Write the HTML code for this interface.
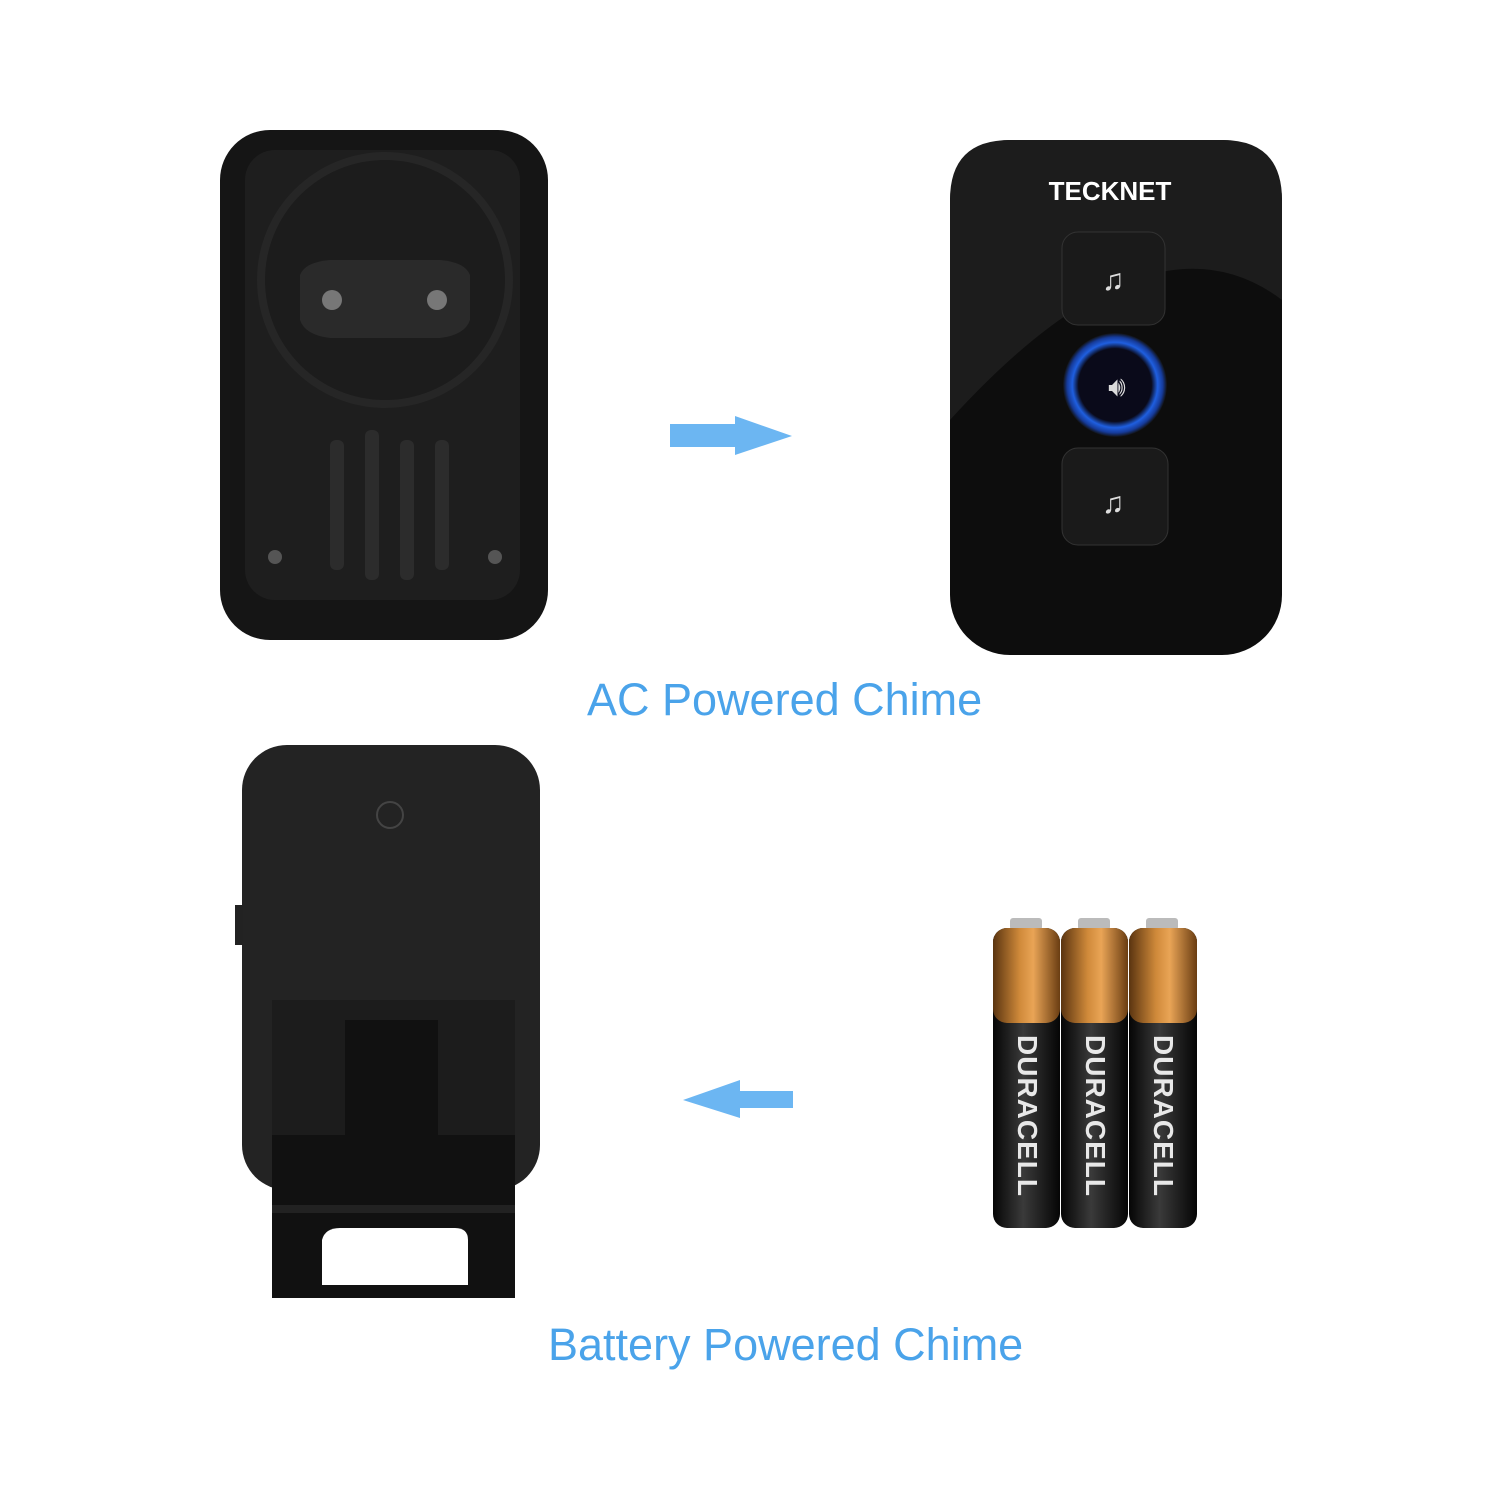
<!DOCTYPE html>
<html><head><meta charset="utf-8"><style>
body{margin:0;width:1500px;height:1500px;background:#fff;position:relative;overflow:hidden;font-family:"Liberation Sans",sans-serif}
.a{position:absolute}
.lbl{position:absolute;color:#4aa3ea;font-size:45px;white-space:nowrap}
</style></head><body>
<svg class="a" style="left:0;top:0" width="1500" height="1500" viewBox="0 0 1500 1500">
<defs>
<linearGradient id="cu" x1="0" x2="1"><stop offset="0" stop-color="#5a3410"/><stop offset=".4" stop-color="#d08a3a"/><stop offset=".6" stop-color="#e9a456"/><stop offset="1" stop-color="#6a3d12"/></linearGradient>
<linearGradient id="bk" x1="0" x2="1"><stop offset="0" stop-color="#050505"/><stop offset=".45" stop-color="#3a3a3a"/><stop offset="1" stop-color="#050505"/></linearGradient>
<radialGradient id="ring"><stop offset=".7" stop-color="#0a0a1a"/><stop offset=".82" stop-color="#1f5fe0"/><stop offset=".92" stop-color="#163b9a"/><stop offset="1" stop-color="#111"/></radialGradient>
</defs>
<rect x="220" y="130" width="328" height="510" rx="50" fill="#151515"/>
<rect x="245" y="150" width="275" height="450" rx="30" fill="#1e1e1e"/>
<circle cx="385" cy="280" r="128" fill="#262626"/>
<circle cx="385" cy="280" r="120" fill="#1c1c1c"/>
<path d="M300 275 Q305 262 330 260 L440 260 Q465 262 470 275 L470 320 Q465 335 440 338 L330 338 Q305 335 300 320 Z" fill="#2a2a2a"/>
<circle cx="332" cy="300" r="10" fill="#777"/><circle cx="437" cy="300" r="10" fill="#777"/>
<g fill="#2c2c2c"><rect x="330" y="440" width="14" height="130" rx="6"/><rect x="365" y="430" width="14" height="150" rx="6"/><rect x="400" y="440" width="14" height="140" rx="6"/><rect x="435" y="440" width="14" height="130" rx="6"/></g>
<circle cx="275" cy="557" r="7" fill="#555"/><circle cx="495" cy="557" r="7" fill="#555"/>
<polygon points="670,424 735,424 735,416 792,436 735,455 735,447 670,447" fill="#6cb6f2"/>
<rect x="950" y="140" width="332" height="515" rx="60" fill="#0d0d0d"/>
<path d="M1010 140 L1222 140 Q1282 140 1282 200 L1282 300 Q1150 200 950 420 L950 200 Q950 140 1010 140Z" fill="#1c1c1c"/>
<text x="1110" y="200" text-anchor="middle" fill="#fff" font-size="26" font-weight="bold" font-family="Liberation Sans">TECKNET</text>
<rect x="1062" y="232" width="103" height="93" rx="16" fill="#1a1a1a" stroke="#333"/>
<text x="1113" y="290" text-anchor="middle" fill="#ddd" font-size="30">♫</text>
<circle cx="1115" cy="385" r="52" fill="url(#ring)"/>
<text x="1117" y="396" text-anchor="middle" fill="#ddd" font-size="28">🔊︎</text>
<rect x="1062" y="448" width="106" height="97" rx="16" fill="#1a1a1a" stroke="#333"/>
<text x="1113" y="513" text-anchor="middle" fill="#ddd" font-size="30">♫</text>
<rect x="242" y="745" width="298" height="445" rx="45" fill="#232323"/>
<circle cx="390" cy="815" r="13" fill="none" stroke="#444" stroke-width="2"/>
<rect x="235" y="905" width="8" height="40" fill="#222"/>
<rect x="272" y="1000" width="243" height="298" fill="#1c1c1c"/>
<path d="M272 1135 L345 1135 L345 1020 L438 1020 L438 1135 L515 1135 L515 1298 L272 1298Z" fill="#111"/>
<path d="M322 1285 L322 1240 Q325 1228 340 1228 L455 1228 Q468 1228 468 1240 L468 1285Z" fill="#fff"/>
<rect x="272" y="1205" width="243" height="8" fill="#222"/>
<polygon points="793,1091 740,1091 740,1080 683,1100 740,1118 740,1108 793,1108" fill="#6cb6f2"/>
<g>
<rect x="1010" y="918" width="32" height="12" rx="3" fill="#bbb"/>
<rect x="993" y="928" width="67" height="300" rx="14" fill="url(#bk)"/>
<rect x="993" y="928" width="67" height="95" rx="14" fill="url(#cu)"/>
<rect x="1078" y="918" width="32" height="12" rx="3" fill="#bbb"/>
<rect x="1061" y="928" width="67" height="300" rx="14" fill="url(#bk)"/>
<rect x="1061" y="928" width="67" height="95" rx="14" fill="url(#cu)"/>
<rect x="1146" y="918" width="32" height="12" rx="3" fill="#bbb"/>
<rect x="1129" y="928" width="68" height="300" rx="14" fill="url(#bk)"/>
<rect x="1129" y="928" width="68" height="95" rx="14" fill="url(#cu)"/>
<g fill="#e8e8e8" font-weight="bold" font-size="28" letter-spacing="1" font-family="Liberation Sans">
<text transform="translate(1018,1035) rotate(90)">DURACELL</text>
<text transform="translate(1086,1035) rotate(90)">DURACELL</text>
<text transform="translate(1154,1035) rotate(90)">DURACELL</text>
</g>
</g>
</svg>
<div class="lbl" style="left:587px;top:674px">AC Powered Chime</div>
<div class="lbl" style="left:548px;top:1319px">Battery Powered Chime</div>
</body></html>
